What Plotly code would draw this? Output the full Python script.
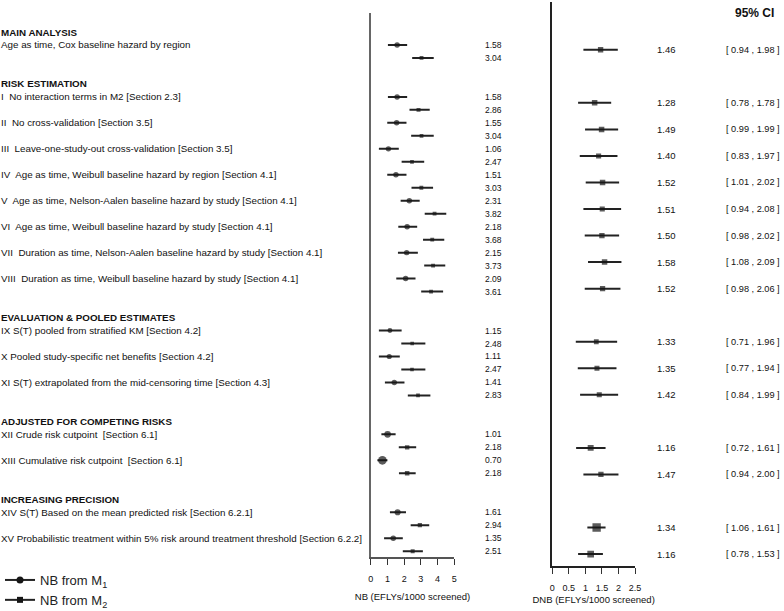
import plotly.graph_objects as go

W, H = 784, 611
FONT = "Liberation Sans, Arial, sans-serif"

section_titles = ["MAIN ANALYSIS", "RISK ESTIMATION", "EVALUATION & POOLED ESTIMATES",
                  "ADJUSTED FOR COMPETING RISKS", "INCREASING PRECISION"]
section_sizes = [1, 8, 3, 2, 2]

analysis_labels = [
    "Age as time, Cox baseline hazard by region",
    "I  No interaction terms in M2 [Section 2.3]",
    "II  No cross-validation [Section 3.5]",
    "III  Leave-one-study-out cross-validation [Section 3.5]",
    "IV  Age as time, Weibull baseline hazard by region [Section 4.1]",
    "V  Age as time, Nelson-Aalen baseline hazard by study [Section 4.1]",
    "VI  Age as time, Weibull baseline hazard by study [Section 4.1]",
    "VII  Duration as time, Nelson-Aalen baseline hazard by study [Section 4.1]",
    "VIII  Duration as time, Weibull baseline hazard by study [Section 4.1]",
    "IX S(T) pooled from stratified KM [Section 4.2]",
    "X Pooled study-specific net benefits [Section 4.2]",
    "XI S(T) extrapolated from the mid-censoring time [Section 4.3]",
    "XII Crude risk cutpoint  [Section 6.1]",
    "XIII Cumulative risk cutpoint  [Section 6.1]",
    "XIV S(T) Based on the mean predicted risk [Section 6.2.1]",
    "XV Probabilistic treatment within 5% risk around treatment threshold [Section 6.2.2]",
]

# Net benefit (EFLYs/1000 screened) from M1 and M2 with 95% CI
nb_m1 = [1.58, 1.58, 1.55, 1.06, 1.51, 2.31, 2.18, 2.15, 2.09, 1.15, 1.11, 1.41, 1.01, 0.70, 1.61, 1.35]
nb_m1_lo = [1.03, 1.03, 0.99, 0.49, 0.99, 1.79, 1.65, 1.63, 1.53, 0.49, 0.49, 0.85, 0.64, 0.40, 1.15, 0.80]
nb_m1_hi = [2.18, 2.18, 2.14, 1.68, 2.14, 2.93, 2.78, 2.82, 2.68, 1.85, 1.74, 2.02, 1.49, 1.00, 2.11, 1.92]
nb_m2 = [3.04, 2.86, 3.04, 2.47, 3.03, 3.82, 3.68, 3.73, 3.61, 2.48, 2.47, 2.83, 2.18, 2.18, 2.94, 2.51]
nb_m2_lo = [2.48, 2.32, 2.42, 1.85, 2.44, 3.23, 3.13, 3.20, 3.02, 1.83, 1.83, 2.22, 1.68, 1.69, 2.39, 1.92]
nb_m2_hi = [3.77, 3.53, 3.77, 3.20, 3.73, 4.52, 4.40, 4.46, 4.33, 3.27, 3.27, 3.57, 2.72, 2.69, 3.50, 3.12]

# Difference in net benefit with 95% CI
dnb = [1.46, 1.28, 1.49, 1.40, 1.52, 1.51, 1.50, 1.58, 1.52, 1.33, 1.35, 1.42, 1.16, 1.47, 1.34, 1.16]
dnb_lo = [0.94, 0.78, 0.99, 0.83, 1.01, 0.94, 0.98, 1.08, 0.98, 0.71, 0.77, 0.84, 0.72, 0.94, 1.06, 0.78]
dnb_hi = [1.98, 1.78, 1.99, 1.97, 2.02, 2.08, 2.02, 2.09, 2.06, 1.96, 1.94, 1.99, 1.61, 2.00, 1.61, 1.53]

nb_ticks = [0, 1, 2, 3, 4, 5]
dnb_ticks = [0, 0.5, 1, 1.5, 2, 2.5]

# ---- row layout (header row, two rows per analysis, blank row between sections)
rows, header_rows = [], []
r = 0
for n in section_sizes:
    header_rows.append(r)
    r += 1
    for _ in range(n):
        rows.append(r)
        r += 2
    r += 1
rows_m2 = [v + 1 for v in rows]


def px_x(p):
    return p / W


def px_y(p):
    return 1 - p / H


INK = "#161616"
fig = go.Figure()


def ci_trace(x, lo, hi, y, symbol, base, k, xa, ya):
    # marker area grows with precision (narrower CI -> bigger marker)
    return go.Scatter(
        x=x, y=y, mode="markers", xaxis=xa, yaxis=ya, showlegend=False, hoverinfo="skip",
        marker=dict(symbol=symbol, color=INK, size=[base + k / (h - l) for l, h in zip(lo, hi)],
                    line=dict(width=0)),
        error_x=dict(type="data", symmetric=False,
                     array=[h - v for v, h in zip(x, hi)],
                     arrayminus=[v - l for v, l in zip(x, lo)],
                     width=0, thickness=2, color="#222"),
    )


fig.add_trace(ci_trace(nb_m1, nb_m1_lo, nb_m1_hi, rows, "circle", 2, 4, "x", "y"))
fig.add_trace(ci_trace(nb_m2, nb_m2_lo, nb_m2_hi, rows_m2, "square", 1.5, 3, "x", "y"))
fig.add_trace(ci_trace(dnb, dnb_lo, dnb_hi, rows, "square", 2, 3.5, "x2", "y2"))

# legend entries
fig.add_trace(go.Scatter(x=[None], y=[None], mode="lines+markers", name="NB from M<sub>1</sub>",
                         line=dict(color="#222", width=2), marker=dict(symbol="circle", size=7, color=INK)))
fig.add_trace(go.Scatter(x=[None], y=[None], mode="lines+markers", name="NB from M<sub>2</sub>",
                         line=dict(color="#222", width=2), marker=dict(symbol="square", size=6, color=INK)))

ann = []
txt = dict(xref="paper", xanchor="left", yanchor="middle", showarrow=False, borderpad=0, borderwidth=0)
for t, hr in zip(section_titles, header_rows):
    ann.append(dict(text="<b>%s</b>" % t, x=px_x(1), y=hr, yref="y",
                    font=dict(size=9.8, color="#111", family=FONT), **txt))
for t, rr in zip(analysis_labels, rows):
    ann.append(dict(text=t, x=px_x(1), y=rr, yref="y",
                    font=dict(size=9.8, color="#111", family=FONT), **txt))
for v1, v2, rr in zip(nb_m1, nb_m2, rows):
    for v, yy in ((v1, rr), (v2, rr + 1)):
        ann.append(dict(text="%.2f" % v, x=px_x(485), y=yy, yref="y",
                        font=dict(size=8.5, color="#111", family=FONT), **txt))
for v, l, h, rr in zip(dnb, dnb_lo, dnb_hi, rows):
    ann.append(dict(text="%.2f" % v, x=px_x(657), y=rr, yref="y2",
                    font=dict(size=9.5, color="#111", family=FONT), **txt))
    ann.append(dict(text="[ %.2f , %.2f ]" % (l, h), x=px_x(726), y=rr, yref="y2",
                    font=dict(size=9.2, color="#111", family=FONT), **txt))
ann.append(dict(text="<b>95% CI</b>", x=px_x(754), xref="paper", y=px_y(13), yref="paper",
                xanchor="center", yanchor="middle", showarrow=False,
                font=dict(size=12, color="#111", family=FONT)))

axis_common = dict(showgrid=False, zeroline=False, showline=True, ticks="outside", ticklen=6,
                   tickwidth=1.2, tickcolor="#333", ticklabelstandoff=6,
                   tickfont=dict(size=9, color="#111", family=FONT))

fig.update_layout(
    width=W, height=H, margin=dict(l=0, r=0, t=0, b=0, autoexpand=False),
    paper_bgcolor="white", plot_bgcolor="white",
    font=dict(family=FONT, color="#111"),
    xaxis=dict(domain=[px_x(370.7), px_x(454.3)], range=[0, 5], tickvals=nb_ticks,
               linecolor="#555", linewidth=1.5, anchor="y",
               title=dict(text="NB (EFLYs/1000 screened)", font=dict(size=9.5, family=FONT), standoff=11),
               **axis_common),
    yaxis=dict(domain=[px_y(557), px_y(13)], range=[40.45, -1.464], showgrid=False, zeroline=False,
               showline=True, linecolor="#666", linewidth=2, showticklabels=False, ticks="", anchor="x"),
    xaxis2=dict(domain=[px_x(552.3), px_x(635)], range=[0, 2.5], tickvals=dnb_ticks,
                linecolor="#222", linewidth=1.5, anchor="y2", 
                title=dict(text="DNB (EFLYs/1000 screened)", font=dict(size=9.5, family=FONT), standoff=5),
                **axis_common),
    yaxis2=dict(domain=[px_y(566), px_y(2)], range=[39.90, -2.60], showgrid=False, zeroline=False,
                showline=True, linecolor="#222", linewidth=1.5, showticklabels=False, ticks="", anchor="x2"),
    legend=dict(x=px_x(0), xanchor="left", y=px_y(565), yanchor="top", itemwidth=30,
                font=dict(size=13, color="#222", family=FONT), bgcolor="rgba(0,0,0,0)",
                tracegroupgap=0, traceorder="normal"),
    showlegend=True,
    annotations=ann,
)

fig.write_html("out.html", config={"displayModeBar": False},
               post_script="document.body.style.margin='0px';")
